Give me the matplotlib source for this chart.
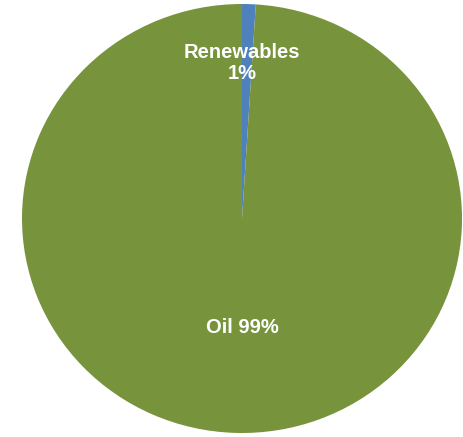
import matplotlib
matplotlib.use("Agg")
import matplotlib.pyplot as plt

labels = ["Renewables", "Oil"]
values = [1, 99]
colors = ["#4F81BD", "#77933C"]

fig = plt.figure(figsize=(4.64, 4.37), dpi=100)
ax = fig.add_axes([22/464, 4/437, 440/464, 429/437])
ax.pie(values, colors=colors, startangle=90, counterclock=False,
       wedgeprops=dict(linewidth=0))
ax.set_aspect('auto')
ax.set_xlim(-1, 1)
ax.set_ylim(-1, 1)
ax.text(0.0, 0.725, "Renewables\n1%", ha='center', va='center', color='white',
        fontsize=14.5, fontweight='bold', family='Liberation Sans', linespacing=1.15)
ax.text(0.0, -0.51, "Oil 99%", ha='center', va='center', color='white',
        fontsize=14.5, fontweight='bold', family='Liberation Sans')
fig.savefig("out.png", dpi=100)
